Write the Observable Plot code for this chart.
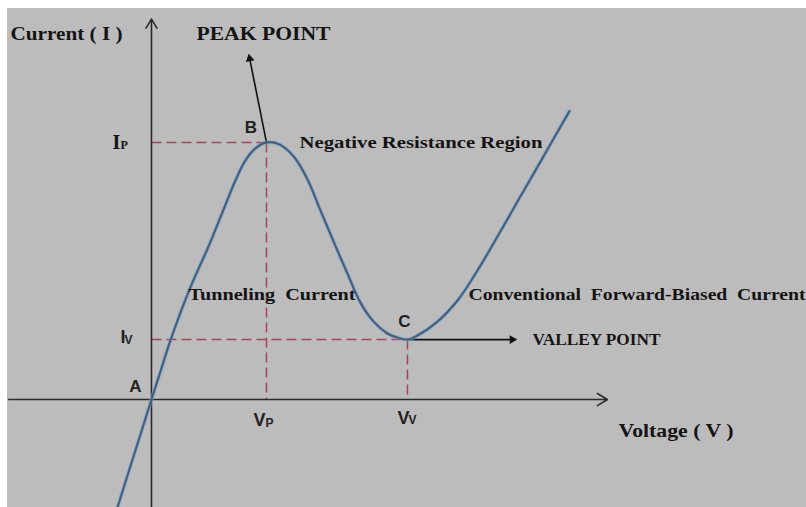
<!DOCTYPE html>
<html><head><meta charset="utf-8">
<script src="https://cdn.jsdelivr.net/npm/d3@7"></script>
<script src="https://cdn.jsdelivr.net/npm/@observablehq/plot@0.6"></script>
<style>
html,body{margin:0;padding:0;background:#fff;width:806px;height:507px;overflow:hidden;}
#chart{position:absolute;left:7px;top:8px;}
</style></head><body><div id="chart"></div>
<script>
// I-V characteristic of a tunnel diode (normalised units: Vp = 1, Ip = 1)
const voltage = [-0.296, 0, 0.078, 0.165, 0.339, 0.487, 0.617, 0.730, 0.817, 0.904, 1.0,
  1.113, 1.235, 1.357, 1.470, 1.583, 1.704, 1.817, 1.930, 2.052, 2.139, 2.226,
  2.313, 2.487, 2.661, 2.835, 3.009, 3.183, 3.357, 3.504, 3.635];
const current = [-0.420, 0, 0.109, 0.230, 0.437, 0.586, 0.728, 0.852, 0.930, 0.977, 1.0,
  0.992, 0.946, 0.856, 0.735, 0.615, 0.490, 0.377, 0.304, 0.257, 0.241, 0.233,
  0.249, 0.303, 0.385, 0.502, 0.634, 0.770, 0.905, 1.020, 1.122];

// key points A (origin), B (peak), C (valley)
const pointNames = ["A", "B", "C"];
const pointVoltage = [0, 1, 2.226];
const pointCurrent = [0, 1, 0.233];
const labelPointV = [-0.139, 0.865, 2.200];
const labelPointI = [0.049, 1.056, 0.303];

// axis extents
const xAxisFrom = -1.243, xAxisTo = 3.965;
const yAxisFrom = -0.420, yAxisTo = 1.480;
const xDomain = [-1.252, 5.696];
const yDomain = [-0.420, 1.521];

// pointer arrows
const peakArrowTip = [0.843, 1.350];
const valleyArrowTip = [3.191, 0.233];

// text annotations
const serifLabels = ["Current ( I )", "PEAK POINT", "Negative Resistance Region", "Tunneling  Current",
  "Conventional  Forward-Biased  Current", "VALLEY POINT", "Voltage ( V )"];
const serifV = [-1.226, 0.391, 1.287, 0.321, 2.757, 3.313, 4.061];
const serifI = [1.421, 1.424, 1.0, 0.410, 0.410, 0.233, -0.121];
const serifWidth = [112, 134, 243, 167, 337, 128, 115];
const serifSize = [19, 19, 17.5, 17.5, 17.5, 17, 19];

// subscripted labels Ip, Iv, Vp, Vv
const subMain = ["I", "I", "V", "V"];
const subSub = ["P", "V", "P", "V"];
const subMainV = [-0.339, -0.270, 0.887, 2.139];
const subMainI = [1.0, 0.243, -0.082, -0.072];
const subSubV = [-0.270, -0.235, 0.991, 2.235];
const subSubI = [0.990, 0.230, -0.091, -0.082];

const curve = voltage.map((v, i) => ({V: v, I: current[i]}));
const points = pointNames.map((n, i) => ({name: n, V: pointVoltage[i], I: pointCurrent[i], lv: labelPointV[i], li: labelPointI[i]}));
const serif = serifLabels.map((t, i) => ({t, V: serifV[i], I: serifI[i]}));
const subs = subMain.map((m, i) => ({m, s: subSub[i], V: subMainV[i], I: subMainI[i], sV: subSubV[i], sI: subSubI[i]}));
const P = points[1], C = points[2];

const dashColor = "#a24658";
const ink = "#141414";

// arrow head positions (slightly behind the tips so the triangle tip lands there)
const peakHead = {V: peakArrowTip[0] + 0.011, I: peakArrowTip[1] - 0.024};
const valleyHead = {V: valleyArrowTip[0] - 0.054, I: valleyArrowTip[1]};

const chart = Plot.plot({
  width: 799, height: 499,
  margin: 0,
  x: {domain: xDomain, axis: null},
  y: {domain: yDomain, axis: null},
  style: {background: "#bcbcbc", overflow: "hidden"},
  marks: [
    // dashed guides
    Plot.link([{x1: 0, x2: P.V, y: P.I}, {x1: 0, x2: C.V, y: C.I}], {x1: "x1", x2: "x2", y1: "y", y2: "y", stroke: dashColor, strokeWidth: 1.5, strokeDasharray: "10,5"}),
    Plot.link([{x: P.V, y1: P.I, y2: 0}, {x: C.V, y1: C.I, y2: 0}], {x1: "x", x2: "x", y1: "y1", y2: "y2", stroke: dashColor, strokeWidth: 1.5, strokeDasharray: "10,5"}),
    // axes
    Plot.arrow([{x1: xAxisFrom, x2: xAxisTo}], {x1: "x1", x2: "x2", y1: 0, y2: 0, stroke: "#2a2a2a", strokeWidth: 1.6, headLength: 11, headAngle: 62}),
    Plot.arrow([{y1: yAxisFrom, y2: yAxisTo}], {x1: 0, x2: 0, y1: "y1", y2: "y2", stroke: "#2a2a2a", strokeWidth: 1.6, headLength: 10, headAngle: 62}),
    // pointer arrows
    Plot.link([{x1: P.V, y1: P.I, x2: peakHead.V, y2: peakHead.I}, {x1: C.V, y1: C.I, x2: valleyHead.V, y2: valleyHead.I}],
      {x1: "x1", y1: "y1", x2: "x2", y2: "y2", stroke: "#111", strokeWidth: 1.6}),
    Plot.dot([peakHead], {x: "V", y: "I", symbol: "triangle2", r: 4.2, fill: "#111", rotate: -11.3}),
    Plot.dot([valleyHead], {x: "V", y: "I", symbol: "triangle2", r: 4.2, fill: "#111", rotate: 90}),
    // characteristic curve
    Plot.line(curve, {x: "V", y: "I", curve: "catmull-rom", stroke: "#8aa3bd", strokeWidth: 4, strokeOpacity: 0.55}),
    Plot.line(curve, {x: "V", y: "I", curve: "catmull-rom", stroke: "#3d6285", strokeWidth: 2.2}),
    // point letters
    Plot.text(points, {x: "lv", y: "li", text: "name", fontFamily: "Liberation Sans", fontWeight: "bold", fontSize: 17, fill: "#222"}),
    // serif annotations
    Plot.text(serif, {x: "V", y: "I", text: "t", textAnchor: "start", fontFamily: "Liberation Serif", fontWeight: "bold",
      fontSize: 17, fill: ink, className: "serif-labels"}),
    // subscripted labels: Ip in serif, others in sans
    Plot.text(subs.slice(0, 1), {x: "V", y: "I", text: "m", textAnchor: "start", fontFamily: "Liberation Serif", fontWeight: "bold", fontSize: 20, fill: ink}),
    Plot.text(subs.slice(0, 1), {x: "sV", y: "sI", text: "s", textAnchor: "start", fontFamily: "Liberation Serif", fontWeight: "bold", fontSize: 12, fill: ink}),
    Plot.text(subs.slice(1), {x: "V", y: "I", text: "m", textAnchor: "start", fontFamily: "Liberation Sans", fontWeight: "bold", fontSize: 18, fill: "#222"}),
    Plot.text(subs.slice(1), {x: "sV", y: "sI", text: "s", textAnchor: "start", fontFamily: "Liberation Sans", fontWeight: "bold", fontSize: 12, fill: "#222"})
  ]
});

// serif labels: font size by row and stretch to the reference widths
d3.select(chart).selectAll(".serif-labels text")
  .attr("font-size", (d, i) => serifSize[typeof d === "number" ? d : i])
  .attr("textLength", (d, i) => serifWidth[typeof d === "number" ? d : i])
  .attr("lengthAdjust", "spacingAndGlyphs")
  .style("white-space", "pre");

document.getElementById("chart").appendChild(chart);
</script></body></html>
